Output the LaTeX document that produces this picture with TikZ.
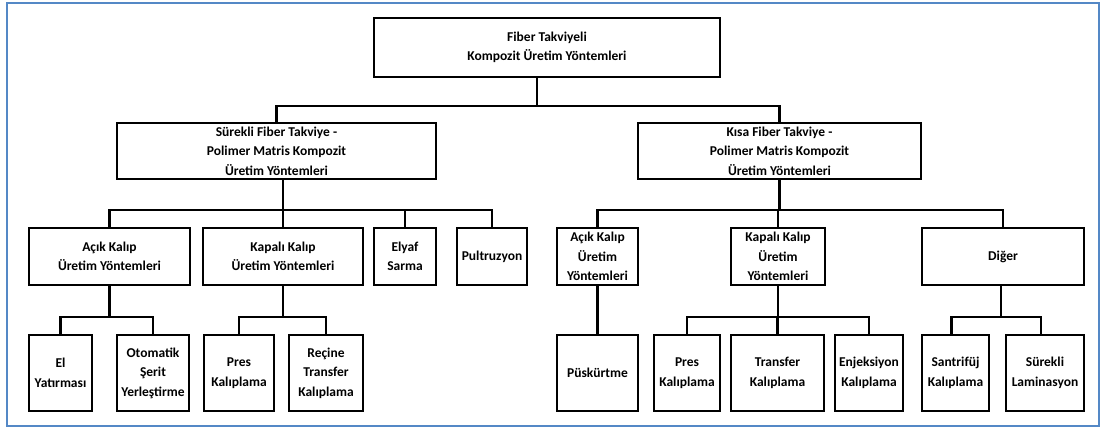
\documentclass[tikz,border=0pt]{standalone}
\usepackage{fontspec}
\setmainfont{Carlito}
\usepackage{tikz}
\usetikzlibrary{positioning}
\definecolor{framecol}{RGB}{84,136,198}

\begin{document}
\begin{tikzpicture}[x=1pt,y=-1pt,
    box/.style={draw,line width=1.4pt,align=center,inner sep=1pt,
        font=\fontsize{13.5}{19.5}\selectfont\bfseries},
    link/.style={line width=2.2pt}]
  \useasboundingbox (0,0) rectangle (1105,428);

  % Outer frame
  \draw[line width=1.6pt,framecol] (7,3) rectangle (1099,426);

  % Root
  \node[box,minimum width=346pt,minimum height=59pt] (root) at (547,47.5)
      {Fiber Takviyeli\\Kompozit Üretim Yöntemleri};

  % Main branches
  \node[box,minimum width=319pt,minimum height=56pt] (surekli) at (276.5,151)
      {Sürekli Fiber Takviye -\\Polimer Matris Kompozit\\Üretim Yöntemleri};
  \node[box,minimum width=283pt,minimum height=56pt] (kisa) at (779.5,151)
      {Kısa Fiber Takviye -\\Polimer Matris Kompozit\\Üretim Yöntemleri};

  % Second level (continuous fibre)
  \node[box,minimum width=161pt,minimum height=57pt] (acikA) at (109.5,256.5)
      {Açık Kalıp\\Üretim Yöntemleri};
  \node[box,minimum width=160pt,minimum height=57pt] (kapaliA) at (283,256.5)
      {Kapalı Kalıp\\Üretim Yöntemleri};
  \node[box,minimum width=62pt,minimum height=57pt] (elyaf) at (405,256.5)
      {Elyaf\\Sarma};
  \node[box,minimum width=70pt,minimum height=57pt] (pult) at (492,256.5)
      {Pultruzyon};

  % Second level (short fibre)
  \node[box,minimum width=81pt,minimum height=57pt] (acikB) at (597.5,256.5)
      {Açık Kalıp\\Üretim\\Yöntemleri};
  \node[box,minimum width=94pt,minimum height=57pt] (kapaliB) at (778,256.5)
      {Kapalı Kalıp\\Üretim\\Yöntemleri};
  \node[box,minimum width=162pt,minimum height=57pt] (diger) at (1003,256.5)
      {Diğer};

  % Third level
  \node[box,minimum width=63pt,minimum height=76pt] (el) at (60.5,373)
      {El\\Yatırması};
  \node[box,minimum width=72pt,minimum height=76pt] (otomatik) at (153,373)
      {Otomatik\\Şerit\\Yerleştirme};
  \node[box,minimum width=70pt,minimum height=76pt] (presA) at (239,373)
      {Pres\\Kalıplama};
  \node[box,minimum width=74pt,minimum height=76pt] (recine) at (326,373)
      {Reçine\\Transfer\\Kalıplama};
  \node[box,minimum width=81pt,minimum height=76pt] (puskurtme) at (597.5,373)
      {Püskürtme};
  \node[box,minimum width=66pt,minimum height=76pt] (presB) at (687,373)
      {Pres\\Kalıplama};
  \node[box,minimum width=93pt,minimum height=76pt] (transfer) at (777.5,373)
      {Transfer\\Kalıplama};
  \node[box,minimum width=68pt,minimum height=76pt] (enjeksiyon) at (869,373)
      {Enjeksiyon\\Kalıplama};
  \node[box,minimum width=67pt,minimum height=76pt] (santrifuj) at (955.5,373)
      {Santrifüj\\Kalıplama};
  \node[box,minimum width=78pt,minimum height=76pt] (laminasyon) at (1045,373)
      {Sürekli\\Laminasyon};

  % Connectors
  \foreach \c in {surekli,kisa}
    \draw[link] ([xshift=-10pt]root.south) -- ++(0,28) -| (\c.north);
  \foreach \c in {acikA,kapaliA,elyaf,pult}
    \draw[link] ([xshift=6.5pt]surekli.south) -- ++(0,30) -| (\c.north);
  \foreach \c in {acikB,kapaliB,diger}
    \draw[link] (kisa.south) -- ++(0,30) -| (\c.north);
  \foreach \c in {el,otomatik}
    \draw[link] (acikA.south) -- ++(0,31) -| (\c.north);
  \foreach \c in {presA,recine}
    \draw[link] (kapaliA.south) -- ++(0,31) -| (\c.north);
  \draw[link] (acikB.south) -- (puskurtme.north);
  \foreach \c in {presB,transfer,enjeksiyon}
    \draw[link] (kapaliB.south) -- ++(0,31) -| (\c.north);
  \foreach \c in {santrifuj,laminasyon}
    \draw[link] ([xshift=-2pt]diger.south) -- ++(0,31) -| ([xshift=-4pt]\c.north);
\end{tikzpicture}
\end{document}
